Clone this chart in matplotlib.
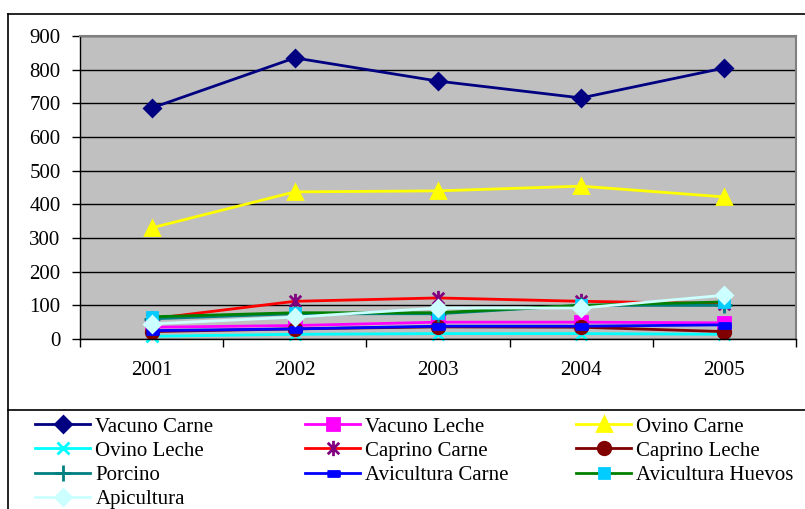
import matplotlib
matplotlib.use("Agg")
import matplotlib.pyplot as plt
from matplotlib.path import Path
from matplotlib.lines import Line2D

# datos
years = ["2001", "2002", "2003", "2004", "2005"]
vacuno_carne = [686, 835, 766, 716, 805]
vacuno_leche = [35, 40, 50, 50, 48]
ovino_carne = [330, 437, 440, 454, 422]
ovino_leche = [8, 14, 16, 16, 14]
caprino_carne = [60, 112, 122, 112, 105]
caprino_leche = [22, 30, 36, 35, 22]
porcino = [60, 75, 75, 100, 100]
avicultura_carne = [25, 30, 38, 38, 42]
avicultura_huevos = [66, 78, 78, 100, 110]
apicultura = [45, 65, 92, 92, 130]

plt.rcParams['font.family'] = ['Liberation Serif', 'DejaVu Serif']
FS = 15

star = Path([(0, -1), (0, 1), (-0.75, -0.75), (0.75, 0.75), (-0.75, 0.75), (0.75, -0.75)],
            [Path.MOVETO, Path.LINETO, Path.MOVETO, Path.LINETO, Path.MOVETO, Path.LINETO])
dash = [(-1, -0.45), (1, -0.45), (1, 0.45), (-1, 0.45)]

# (label, values, line color, marker, marker color, marker size)
series = [
    ("Vacuno Carne", vacuno_carne, "#000080", "D", "#000080", 8),
    ("Vacuno Leche", vacuno_leche, "#FF00FF", "s", "#FF00FF", 8),
    ("Ovino Carne", ovino_carne, "#FFFF00", "^", "#FFFF00", 10),
    ("Ovino Leche", ovino_leche, "#00FFFF", "x", "#00FFFF", 8),
    ("Caprino Carne", caprino_carne, "#FF0000", star, "#800080", 11),
    ("Caprino Leche", caprino_leche, "#800000", "o", "#800000", 9),
    ("Porcino", porcino, "#008080", "+", "#008080", 11),
    ("Avicultura Carne", avicultura_carne, "#0000FF", dash, "#0000FF", 8),
    ("Avicultura Huevos", avicultura_huevos, "#008000", "s", "#00CCFF", 7),
    ("Apicultura", apicultura, "#CCFFFF", "D", "#CCFFFF", 8),
]

fig = plt.figure(figsize=(8.05, 5.09), dpi=100)
ax = fig.add_axes([80 / 805, 1 - 339 / 509, 716 / 805, 303 / 509])
ax.set_facecolor("#C0C0C0")

x = list(range(len(years)))
handles = []
for label, vals, lc, mk, mc, ms in series:
    h, = ax.plot(x, vals, color=lc, lw=2, marker=mk, ms=ms,
                 markerfacecolor=mc, markeredgecolor=mc, mew=2, label=label,
                 clip_on=False)
    handles.append(h)

ax.set_ylim(0, 900)
ax.set_yticks(range(0, 1000, 100))
ax.yaxis.grid(True, color="black", lw=1)
ax.set_axisbelow(True)
ax.set_xlim(-0.5, 4.5)
ax.set_xticks([i - 0.5 for i in range(6)])
ax.set_xticklabels([])
ax.set_xticks(x, minor=True)
ax.set_xticklabels(years, minor=True)
ax.tick_params(axis="x", which="major", length=6, width=1, direction="out")
ax.tick_params(axis="x", which="minor", length=0, pad=16, labelsize=FS)
ax.tick_params(axis="y", length=6, width=1, direction="out", pad=8, labelsize=FS)
for s in ["top", "right"]:
    ax.spines[s].set_color("#808080")
    ax.spines[s].set_linewidth(1.5)
for s in ["left", "bottom"]:
    ax.spines[s].set_color("black")
    ax.spines[s].set_linewidth(1)

# borde del grafico y del cuadro de leyenda
fig.add_artist(Line2D([8 / 805, 8 / 805], [0, 1 - 14 / 509], color="black", lw=1.2,
                      transform=fig.transFigure))
fig.add_artist(Line2D([8 / 805, 1], [1 - 14 / 509, 1 - 14 / 509], color="black", lw=1.2,
                      transform=fig.transFigure))
fig.add_artist(Line2D([8 / 805, 1], [1 - 410 / 509, 1 - 410 / 509], color="black", lw=1.2,
                      transform=fig.transFigure))

cols = [[0, 3, 6, 9], [1, 4, 7], [2, 5, 8]]
col_x = [35, 305, 576]
for idx, cx in zip(cols, col_x):
    leg = fig.legend([handles[i] for i in idx], [series[i][0] for i in idx],
                     loc="upper left", bbox_to_anchor=(cx / 805, 1 - 417 / 509),
                     frameon=False, fontsize=FS, borderpad=0, borderaxespad=0,
                     handlelength=2.65, handletextpad=0.25, labelspacing=0.22,
                     numpoints=1)

fig.savefig("out.png", dpi=100)
